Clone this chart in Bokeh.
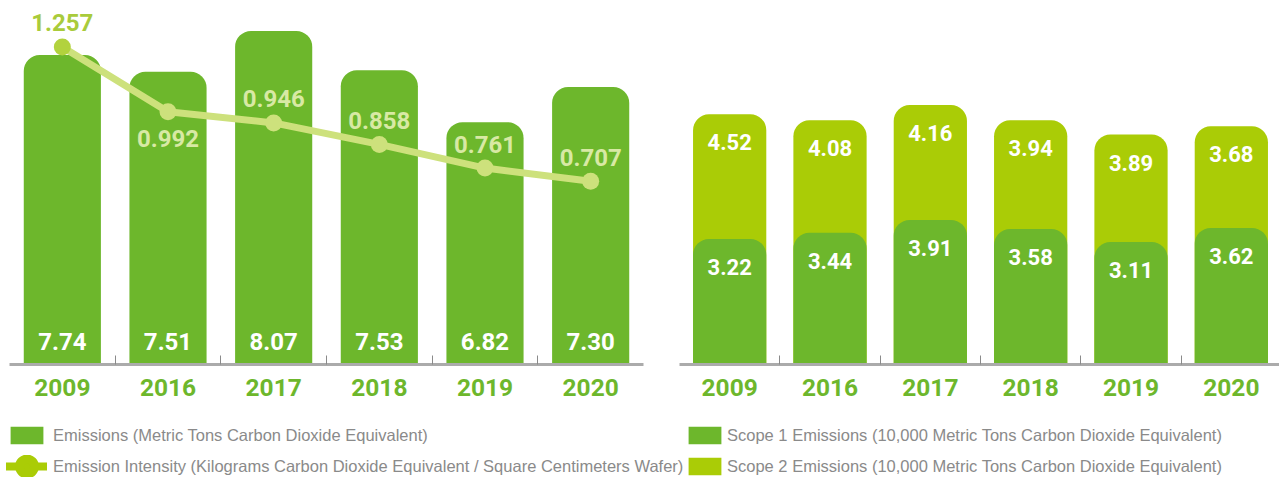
from bokeh.plotting import figure
from bokeh.layouts import column, row
from bokeh.models import ColumnDataSource, Range1d, LinearAxis, FixedTicker, Legend, LegendItem
from bokeh.core.properties import value
from bokeh.embed import file_html
from bokeh.resources import INLINE

# ---------------- data ----------------
years = ["2009", "2016", "2017", "2018", "2019", "2020"]
emissions = [7.74, 7.51, 8.07, 7.53, 6.82, 7.30]            # metric tons CO2e
intensity = [1.257, 0.992, 0.946, 0.858, 0.761, 0.707]       # kg CO2e / cm2 wafer
scope1 = [3.22, 3.44, 3.91, 3.58, 3.11, 3.62]                # 10,000 metric tons CO2e
scope2 = [4.52, 4.08, 4.16, 3.94, 3.89, 3.68]                # 10,000 metric tons CO2e

legend_left = ["Emissions (Metric Tons Carbon Dioxide Equivalent)",
               "Emission Intensity (Kilograms Carbon Dioxide Equivalent / Square Centimeters Wafer)"]
legend_right = ["Scope 1 Emissions (10,000 Metric Tons Carbon Dioxide Equivalent)",
                "Scope 2 Emissions (10,000 Metric Tons Carbon Dioxide Equivalent)"]

# ---------------- styles ----------------
GREEN = "#6DB72C"
YGREEN = "#AACC06"
LINE = "#CDE17C"
PALE_TXT = "#D8E9A4"
DARK_TXT = "#A9CB3B"
AXIS = "#ABABAB"
TICK = "#8A8A8A"
LEG_TXT = "#8A8A8A"
NUM_FONT = value("Roboto")
NAN = float("nan")

n = len(years)
xc = [i + 0.5 for i in range(n)]
bounds = [float(i) for i in range(1, n)]
labels_map = {c: y for c, y in zip(xc, years)}

LEFT_BASE = 3.5
RIGHT_BASE = -1.33


def style_fig(p):
    p.outline_line_color = None
    p.grid.visible = False
    p.background_fill_color = None
    p.border_fill_color = None


def add_axis(p):
    ax = LinearAxis(ticker=FixedTicker(ticks=xc, minor_ticks=bounds),
                    major_label_overrides=labels_map)
    ax.axis_line_color = AXIS
    ax.axis_line_width = 3
    ax.major_tick_line_color = None
    ax.major_tick_in = 0
    ax.major_tick_out = 0
    ax.minor_tick_line_color = TICK
    ax.minor_tick_line_width = 1
    ax.minor_tick_in = 9
    ax.minor_tick_out = 0
    ax.major_label_standoff = 14
    ax.major_label_text_font = "Roboto"
    ax.major_label_text_font_style = "bold"
    ax.major_label_text_font_size = "24.5px"
    ax.major_label_text_color = GREEN
    p.add_layout(ax, "below")


# ---------------- left chart ----------------
p1 = figure(width=659, height=415, x_range=Range1d(0, n), y_range=Range1d(LEFT_BASE, 8.377),
            output_backend="svg", toolbar_location=None,
            x_axis_location=None, y_axis_location=None,
            min_border_left=9, min_border_right=16, min_border_top=8, min_border_bottom=51)
style_fig(p1)
p1.extra_y_ranges = {"int": Range1d(-0.044, 1.415)}

src1 = ColumnDataSource(dict(
    x=xc, emissions=emissions, intensity=intensity,
    elab=[f"{v:.2f}" for v in emissions],
    ilab=[f"{v:.3f}" for v in intensity],
))
p1.vbar(x="x", top="emissions", bottom=LEFT_BASE, width=0.73, source=src1,
        fill_color=GREEN, line_color=None, border_radius=(16, 16, 0, 0))
p1.text(x="x", y=LEFT_BASE, text="elab", source=src1, text_align="center",
        text_baseline="alphabetic", y_offset=-23, text_font=NUM_FONT,
        text_font_style="bold", text_font_size="24px", text_color="white")

p1.line(x="x", y="intensity", source=src1, y_range_name="int",
        line_color=LINE, line_width=7)
src1.data["ptc"] = ["#B2D23E"] + [LINE] * (n - 1)
src1.data["lc"] = [DARK_TXT] + [PALE_TXT] * (n - 1)
src1.data["lo"] = [-25, 27, -24, -24, -24, -24]
p1.scatter(x="x", y="intensity", source=src1, y_range_name="int", size=17,
           fill_color="ptc", line_color=None)
p1.text(x="x", y="intensity", text="ilab", source=src1, y_range_name="int",
        text_align="center", text_baseline="alphabetic", y_offset="lo",
        text_font=NUM_FONT, text_font_style="bold", text_font_size="24px",
        text_color="lc")
add_axis(p1)

# ---------------- right chart ----------------
p2 = figure(width=620, height=415, x_range=Range1d(0, 5.98), y_range=Range1d(RIGHT_BASE, 11.57),
            output_backend="svg", toolbar_location=None,
            x_axis_location=None, y_axis_location=None,
            min_border_left=20, min_border_right=0, min_border_top=8, min_border_bottom=51)
style_fig(p2)
src2 = ColumnDataSource(dict(
    x=xc, s1=scope1, total=[a + b for a, b in zip(scope1, scope2)],
    l1=[f"{v:.2f}" for v in scope1], l2=[f"{v:.2f}" for v in scope2],
))
p2.vbar(x="x", top="total", bottom=RIGHT_BASE, width=0.73, source=src2,
        fill_color=YGREEN, line_color=None, border_radius=(16, 16, 0, 0))
p2.vbar(x="x", top="s1", bottom=RIGHT_BASE, width=0.73, source=src2,
        fill_color=GREEN, line_color=None, border_radius=(16, 16, 0, 0))
for col, lab in (("total", "l2"), ("s1", "l1")):
    p2.text(x="x", y=col, text=lab, source=src2, text_align="center",
            text_baseline="alphabetic", y_offset=28, text_font=NUM_FONT,
            text_font_style="bold", text_font_size="22px", text_color="white")
add_axis(p2)


# ---------------- legends ----------------
def legend_fig(width, left_pad, items_spec, standoff):
    f = figure(width=width, height=62, x_range=Range1d(0, 1), y_range=Range1d(0, 1),
               output_backend="svg", toolbar_location=None,
               x_axis_location=None, y_axis_location=None,
               min_border_left=left_pad, min_border_right=0, min_border_top=9, min_border_bottom=0)
    style_fig(f)
    items = []
    for label, kind, color in items_spec:
        if kind == "bar":
            r = f.vbar(x=[NAN], top=[NAN], width=0.5, fill_color=color, line_color=None)
            items.append(LegendItem(label=label, renderers=[r]))
        else:
            rl = f.line(x=[NAN], y=[NAN], line_color=color, line_width=8, line_cap="round")
            rs = f.scatter(x=[NAN], y=[NAN], size=10, fill_color=color,
                           line_color=color, line_width=15)
            items.append(LegendItem(label=label, renderers=[rl, rs]))
    lg = Legend(items=items, location="top_left", orientation="vertical",
                glyph_width=41, glyph_height=22, label_height=22, spacing=9,
                label_standoff=standoff, margin=0, padding=0,
                border_line_color=None, background_fill_alpha=0,
                label_text_font="Liberation Sans", label_text_font_size="16.5px",
                label_text_color=LEG_TXT)
    f.add_layout(lg, "center")
    return f


lg1 = legend_fig(684, 6, [(legend_left[0], "bar", GREEN), (legend_left[1], "line", YGREEN)], 6)
lg2 = legend_fig(595, 0, [(legend_right[0], "bar", GREEN), (legend_right[1], "bar", YGREEN)], 2)

layout = column(row(p1, p2), row(lg1, lg2))
open("out.html", "w").write(file_html(layout, INLINE))
